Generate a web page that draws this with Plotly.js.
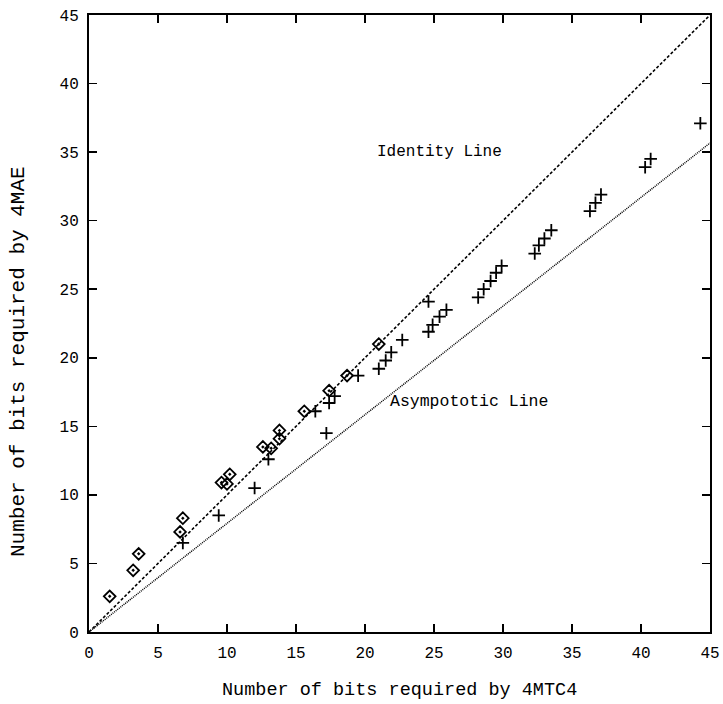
<!DOCTYPE html>
<html>
<head>
<meta charset="utf-8">
<script src="https://cdn.plot.ly/plotly-3.0.1.min.js"></script>
<style>html,body{margin:0;padding:0;background:#fff;}#chart{width:723px;height:704px;}</style>
</head>
<body>
<div id="chart"></div>
<script>
// Diamonds series
const diamondX = [1.5, 3.2, 3.6, 6.6, 6.8, 9.6, 10.0, 10.2, 12.6, 13.2, 13.8, 13.8, 15.6, 17.4, 18.7, 21.0];
const diamondY = [2.6, 4.5, 5.7, 7.3, 8.3, 10.9, 10.8, 11.5, 13.5, 13.4, 14.1, 14.7, 16.1, 17.6, 18.7, 21.0];
// Crosses series
const crossX = [6.8, 9.4, 12.0, 13.0, 16.4, 17.2, 17.4, 17.8, 19.5, 21.0, 21.5, 21.9, 22.7, 24.6, 24.6, 24.9, 25.4, 25.9, 28.2, 28.6, 29.1, 29.5, 29.9, 32.3, 32.6, 33.0, 33.5, 36.3, 36.7, 37.1, 40.3, 40.7, 44.3];
const crossY = [6.5, 8.5, 10.5, 12.6, 16.1, 14.5, 16.7, 17.2, 18.7, 19.2, 19.8, 20.4, 21.3, 24.1, 21.9, 22.4, 23.0, 23.5, 24.4, 25.0, 25.6, 26.2, 26.7, 27.6, 28.2, 28.7, 29.3, 30.7, 31.3, 31.9, 33.9, 34.5, 37.1];
// Reference lines
const identityX = [0, 45];
const identityY = [0, 45];
const asymX = [0, 45];
const asymY = [0, 35.66];
const tickVals = [0, 5, 10, 15, 20, 25, 30, 35, 40, 45];
const tickText = ["0", "5", "10", "15", "20", "25", "30", "35", "40", "45"];
const xTitle = 'Number of bits required by 4MTC4';
const yTitle = 'Number of bits required by 4MAE';

const FONT = '"Liberation Mono", "Courier New", monospace';

const traces = [
  {x: identityX, y: identityY, mode: 'lines', line: {color: '#000', width: 1.6, dash: '3px,2px'}, hoverinfo: 'skip'},
  {x: asymX, y: asymY, mode: 'lines', line: {color: '#000', width: 1.5, dash: '1px,1px'}, hoverinfo: 'skip'},
  {x: diamondX, y: diamondY, mode: 'markers', marker: {symbol: 'diamond-open-dot', size: 9, color: '#000', line: {color: '#000', width: 1.8}}},
  {x: crossX, y: crossY, mode: 'markers', marker: {symbol: 'cross-thin-open', size: 9, color: '#000', line: {color: '#000', width: 1.8}}}
];

const axisCommon = {
  range: [0, 45], tickmode: 'array', tickvals: tickVals, ticktext: tickText,
  ticks: 'inside', ticklen: 8, tickwidth: 1.5, tickcolor: '#000',
  showline: true, linecolor: '#000', linewidth: 2, mirror: 'allticks',
  showgrid: false, zeroline: false,
  tickfont: {family: FONT, size: 16, color: '#000'}
};

const layout = {
  width: 723, height: 704,
  margin: {l: 89, r: 13, t: 15, b: 72},
  paper_bgcolor: '#fff', plot_bgcolor: '#fff',
  showlegend: false,
  xaxis: Object.assign({}, axisCommon, {ticklabelstandoff: 5}),
  yaxis: Object.assign({}, axisCommon, {ticklabelstandoff: 5}),
  annotations: [
    {x: 25.4, y: 35.0, xref: 'x', yref: 'y', text: 'Identity Line', showarrow: false, font: {family: FONT, size: 16, color: '#000'}},
    {x: 27.5, y: 16.8, xref: 'x', yref: 'y', text: 'Asympototic Line', showarrow: false, font: {family: FONT, size: 16.5, color: '#000'}},
    {x: 0.5, y: -0.0956, xref: 'paper', yref: 'paper', xanchor: 'center', yanchor: 'middle', text: xTitle, showarrow: false, font: {family: FONT, size: 18.5, color: '#000'}},
    {x: -0.1143, y: 0.4376, xref: 'paper', yref: 'paper', xanchor: 'center', yanchor: 'middle', textangle: -90, text: yTitle, showarrow: false, font: {family: FONT, size: 21, color: '#000'}}
  ]
};

Plotly.newPlot('chart', traces, layout, {displayModeBar: false, staticPlot: true});
</script>
</body>
</html>
